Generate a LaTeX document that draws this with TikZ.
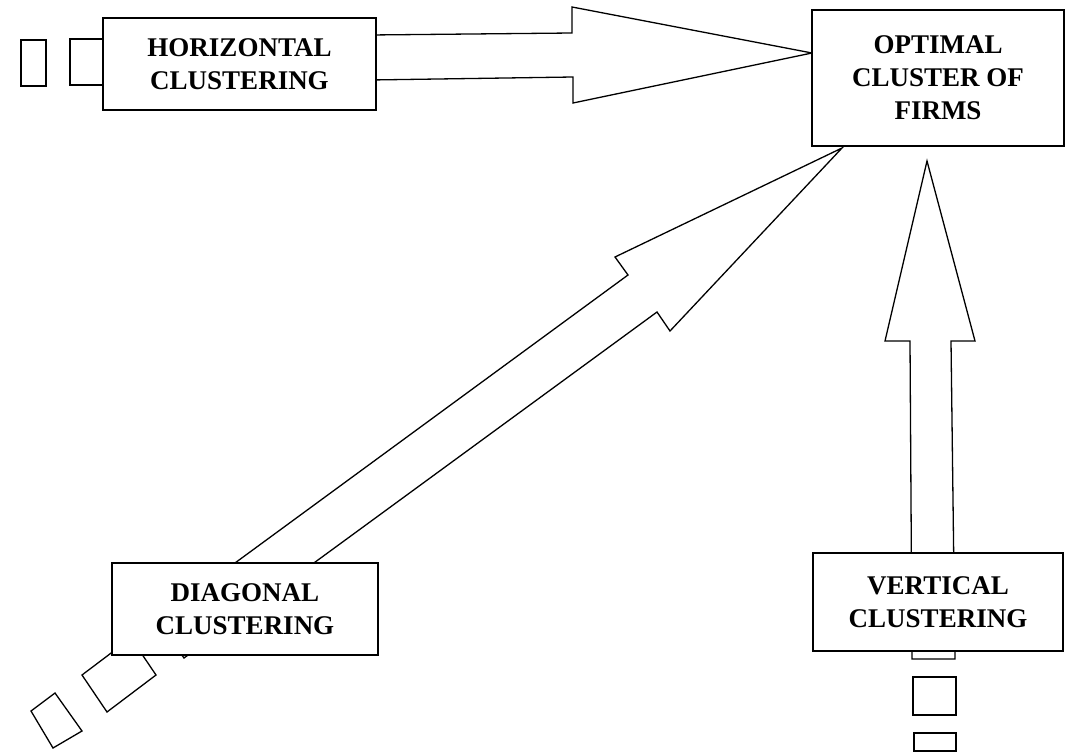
\documentclass[tikz,border=0pt]{standalone}
\usepackage{fontspec}
\setmainfont{Liberation Serif}
\begin{document}
\begin{tikzpicture}[x=1pt,y=-1pt,
  box/.style={draw, line width=1.5pt, fill=white, align=center,
    font=\bfseries\fontsize{27}{33}\selectfont, inner sep=0pt},
  blk/.style={draw, line width=1.3pt, line join=miter, fill=white},
  tailbox/.style={draw, line width=1.3pt, fill=white}]
\useasboundingbox (0,0) rectangle (1068,752);

% ---- horizontal arrow (tail pieces + block arrow)
\draw[tailbox] (21,40) rectangle (46,86);
\draw[tailbox] (70,39) rectangle (112,85);
\draw[blk] (370,35) -- (572,33) -- (572,7) -- (812,53) -- (573,103) -- (573,77) -- (370,80) -- cycle;

% ---- diagonal arrow
\draw[tailbox] (82,675) -- (107,712) -- (156,675) -- (131,638) -- cycle;
\draw[tailbox] (55,693) -- (31,711) -- (53,748) -- (82,731) -- cycle;
\draw[blk] (156.5,620.5) -- (628,275) -- (615,257) -- (842,148) -- (670,331) -- (657,312) -- (184,658) -- cycle;

% ---- vertical arrow
\draw[blk] (912,659) -- (910,341) -- (885,341) -- (927,161) -- (975,341) -- (951,341) -- (955,659) -- cycle;
\draw[tailbox] (913,677) rectangle (956,715);
\draw[tailbox] (914,733) rectangle (956,751);

% ---- boxes
\node[box, minimum width=273pt, minimum height=92pt] (hor) at (239.5,64) {HORIZONTAL\\CLUSTERING};
\node[box, minimum width=252pt, minimum height=136pt] (opt) at (938,78) {OPTIMAL\\CLUSTER OF\\FIRMS};
\node[box, minimum width=266pt, minimum height=92pt] (dia) at (245,609) {DIAGONAL\\CLUSTERING};
\node[box, minimum width=250pt, minimum height=98pt] (ver) at (938,602) {VERTICAL\\CLUSTERING};
\end{tikzpicture}
\end{document}
